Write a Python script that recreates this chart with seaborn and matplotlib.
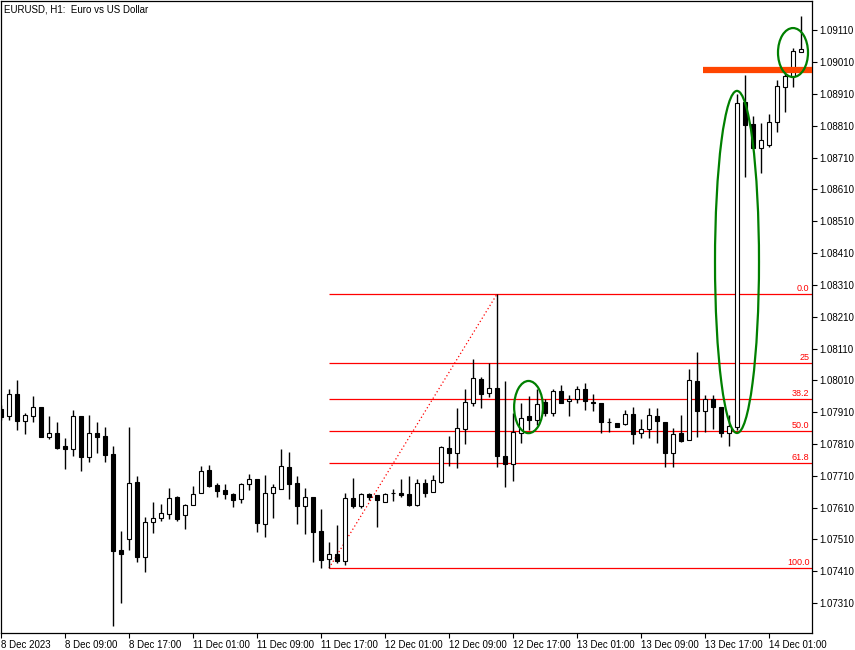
import matplotlib
matplotlib.use("Agg")
import matplotlib.pyplot as plt
import matplotlib.transforms as mtransforms
from matplotlib.patches import Ellipse
import seaborn as sns
import numpy as np

sns.set_theme(style="ticks")
plt.rcParams['font.family'] = ['Liberation Sans', 'DejaVu Sans']

# EURUSD H1 candles (open, high, low, close)
opens = [1.07920, 1.07898, 1.07967, 1.07882, 1.07898, 1.07926, 1.07832, 1.07844, 1.07803, 1.07794,
         1.07898, 1.07769, 1.07844, 1.07835, 1.07778, 1.07477, 1.07511, 1.07690, 1.07455, 1.07565,
         1.07577, 1.07590, 1.07643, 1.07587, 1.07618, 1.07656, 1.07728, 1.07681, 1.07665, 1.07653,
         1.07637, 1.07684, 1.07700, 1.07558, 1.07656, 1.07668, 1.07737, 1.07687, 1.07615, 1.07643,
         1.07536, 1.07448, 1.07464, 1.07442, 1.07640, 1.07615, 1.07653, 1.07649, 1.07627, 1.07656,
         1.07656, 1.07653, 1.07618, 1.07687, 1.07659, 1.07690, 1.07797, 1.07781, 1.07857, 1.07939,
         1.08014, 1.07970, 1.07986, 1.07772, 1.07747, 1.07844, 1.07898, 1.07885, 1.07942, 1.07907,
         1.07976, 1.07945, 1.07951, 1.07983, 1.07942, 1.07939, 1.07879, 1.07876, 1.07873, 1.07904,
         1.07844, 1.07857, 1.07898, 1.07879, 1.07781, 1.07844, 1.07822, 1.08008, 1.07913, 1.07951,
         1.07926, 1.07844, 1.07863, 1.08885, 1.08815, 1.08740, 1.08749, 1.08822, 1.08932, 1.08966,
         1.09042]
highs = [1.07932, 1.07983, 1.08011, 1.07907, 1.07961, 1.07926, 1.07898, 1.07879, 1.07829, 1.07917,
         1.07898, 1.07901, 1.07879, 1.07863, 1.07803, 1.07536, 1.07863, 1.07709, 1.07580, 1.07627,
         1.07621, 1.07671, 1.07646, 1.07621, 1.07678, 1.07741, 1.07744, 1.07687, 1.07684, 1.07656,
         1.07687, 1.07715, 1.07700, 1.07712, 1.07684, 1.07794, 1.07785, 1.07709, 1.07671, 1.07643,
         1.07605, 1.07502, 1.07555, 1.07656, 1.07703, 1.07656, 1.07656, 1.07649, 1.07656, 1.07668,
         1.07700, 1.07709, 1.07700, 1.07700, 1.07712, 1.07803, 1.07835, 1.07923, 1.07983, 1.08077,
         1.08020, 1.08064, 1.08281, 1.08008, 1.07907, 1.07939, 1.07961, 1.07983, 1.07951, 1.07983,
         1.07995, 1.07964, 1.07992, 1.08001, 1.07967, 1.07939, 1.07891, 1.07876, 1.07917, 1.07926,
         1.07888, 1.07923, 1.07923, 1.07879, 1.07860, 1.07901, 1.08045, 1.08099, 1.07964, 1.07964,
         1.07926, 1.07901, 1.08910, 1.08969, 1.08841, 1.08819, 1.08847, 1.08954, 1.08995, 1.09054,
         1.09155]
lows = [1.07885, 1.07885, 1.07854, 1.07841, 1.07879, 1.07832, 1.07825, 1.07794, 1.07731, 1.07772,
        1.07725, 1.07753, 1.07781, 1.07753, 1.07238, 1.07310, 1.07477, 1.07439, 1.07407, 1.07530,
        1.07568, 1.07574, 1.07568, 1.07543, 1.07618, 1.07656, 1.07675, 1.07643, 1.07637, 1.07612,
        1.07624, 1.07665, 1.07533, 1.07517, 1.07577, 1.07668, 1.07637, 1.07558, 1.07527, 1.07439,
        1.07420, 1.07420, 1.07436, 1.07429, 1.07609, 1.07609, 1.07634, 1.07549, 1.07627, 1.07631,
        1.07643, 1.07615, 1.07615, 1.07643, 1.07659, 1.07687, 1.07741, 1.07734, 1.07810, 1.07929,
        1.07923, 1.07957, 1.07737, 1.07675, 1.07693, 1.07813, 1.07854, 1.07869, 1.07898, 1.07898,
        1.07939, 1.07898, 1.07939, 1.07917, 1.07913, 1.07844, 1.07847, 1.07863, 1.07869, 1.07810,
        1.07829, 1.07829, 1.07813, 1.07737, 1.07737, 1.07816, 1.07822, 1.07832, 1.07847, 1.07857,
        1.07832, 1.07803, 1.07854, 1.08649, 1.08740, 1.08661, 1.08743, 1.08790, 1.08853, 1.08932,
        1.09042]
closes = [1.07895, 1.07967, 1.07882, 1.07901, 1.07926, 1.07832, 1.07844, 1.07797, 1.07794, 1.07898,
          1.07769, 1.07844, 1.07832, 1.07775, 1.07473, 1.07464, 1.07687, 1.07455, 1.07565, 1.07577,
          1.07593, 1.07640, 1.07574, 1.07618, 1.07653, 1.07725, 1.07678, 1.07662, 1.07653, 1.07634,
          1.07684, 1.07700, 1.07561, 1.07656, 1.07675, 1.07741, 1.07684, 1.07615, 1.07643, 1.07533,
          1.07445, 1.07464, 1.07442, 1.07640, 1.07615, 1.07653, 1.07643, 1.07634, 1.07653, 1.07656,
          1.07649, 1.07618, 1.07687, 1.07656, 1.07697, 1.07800, 1.07781, 1.07860, 1.07942, 1.08017,
          1.07967, 1.07986, 1.07772, 1.07747, 1.07847, 1.07891, 1.07885, 1.07935, 1.07907, 1.07976,
          1.07939, 1.07951, 1.07983, 1.07945, 1.07939, 1.07879, 1.07879, 1.07863, 1.07904, 1.07841,
          1.07857, 1.07901, 1.07882, 1.07781, 1.07841, 1.07819, 1.08011, 1.07913, 1.07951, 1.07926,
          1.07844, 1.07866, 1.08881, 1.08812, 1.08740, 1.08765, 1.08822, 1.08935, 1.08966, 1.09045,
          1.09051]

time_labels = ["8 Dec 2023", "8 Dec 09:00", "8 Dec 17:00", "11 Dec 01:00", "11 Dec 09:00",
               "11 Dec 17:00", "12 Dec 01:00", "12 Dec 09:00", "12 Dec 17:00", "13 Dec 01:00",
               "13 Dec 09:00", "13 Dec 17:00", "14 Dec 01:00"]
price_ticks = [1.07310, 1.07410, 1.07510, 1.07610, 1.07710, 1.07810, 1.07910, 1.08010,
               1.08110, 1.08210, 1.08310, 1.08410, 1.08510, 1.08610, 1.08710, 1.08810,
               1.08910, 1.09010, 1.09110]

# Fibonacci retracement: from the low bar to the high bar
fib_start_bar = 41
fib_end_bar = 62
fib_low = 1.07420
fib_high = 1.08281
fib_ratios = [0.0, 0.25, 0.382, 0.5, 0.618, 1.0]
fib_names = ["0.0", "25", "38.2", "50.0", "61.8", "100.0"]

# resistance line and the marked areas
resist_level = 1.08985
resist_from_bar = 87.75
marks = [(65.94, 1.07926, 3.6, 0.00164),
         (92.0, 1.08382, 5.5, 0.01075),
         (99.0, 1.09040, 3.75, 0.00154)]

n = len(opens)
idx = np.arange(n)
o = np.array(opens); h = np.array(highs); l = np.array(lows); c = np.array(closes)
up = c >= o

fig = plt.figure(figsize=(8.55, 6.5), dpi=100)
ax = fig.add_axes([1 / 855, 17 / 650, 811 / 855, 632 / 650])
ax.set_facecolor("white")

x_max = 101.375
ax.set_xlim(0, x_max)
ax.set_ylim(1.07216, 1.09202)

# fib levels
for r, name in zip(fib_ratios, fib_names):
    lvl = fib_high - r * (fib_high - fib_low)
    ax.hlines(lvl, fib_start_bar, x_max, color="#FF0000", lw=0.9, zorder=1)
    trans = mtransforms.blended_transform_factory(ax.transAxes, ax.transData)
    ax.text(0.997, lvl + 0.00003, name, transform=trans, ha="right", va="bottom",
            color="#FF0000", fontsize=6.5)

sns.lineplot(x=[fib_start_bar, fib_end_bar], y=[fib_low, fib_high], ax=ax,
             color="#FF0000", linestyle=(0, (1, 2)), lw=0.9, zorder=1)

# candles
ax.vlines(idx, l, h, color="black", lw=1.0, zorder=2)
ax.bar(idx[up], (c - o)[up], bottom=o[up], width=0.55, color="white",
       edgecolor="black", linewidth=0.8, zorder=3)
ax.bar(idx[~up], (c - o)[~up], bottom=o[~up], width=0.55, color="black",
       edgecolor="black", linewidth=0.8, zorder=3)

ax.hlines(resist_level, resist_from_bar, x_max, color="#FF4500", lw=4.5, zorder=4)

for cx, cy, w, hh in marks:
    ax.add_patch(Ellipse((cx, cy), w, hh, fill=False, edgecolor="#008000", lw=1.6, zorder=5))

ax.set_xticks(np.arange(0, 8 * len(time_labels), 8))
ax.set_xticklabels(time_labels, ha="left")
ax.set_yticks(price_ticks)
ax.set_yticklabels([f"{p:.5f}" for p in price_ticks])
ax.yaxis.tick_right()
ax.tick_params(axis="both", direction="out", length=3.5, width=0.8, labelsize=7,
               colors="black", pad=1.5)

for s in ax.spines.values():
    s.set_visible(True)
    s.set_color("black")
    s.set_linewidth(0.9)
ax.grid(False)

fig.text(4 / 855, 1 - 10 / 650, "EURUSD, H1:  Euro vs US Dollar", ha="left",
         va="center", fontsize=7, color="black")

fig.savefig("out.png", dpi=100)
